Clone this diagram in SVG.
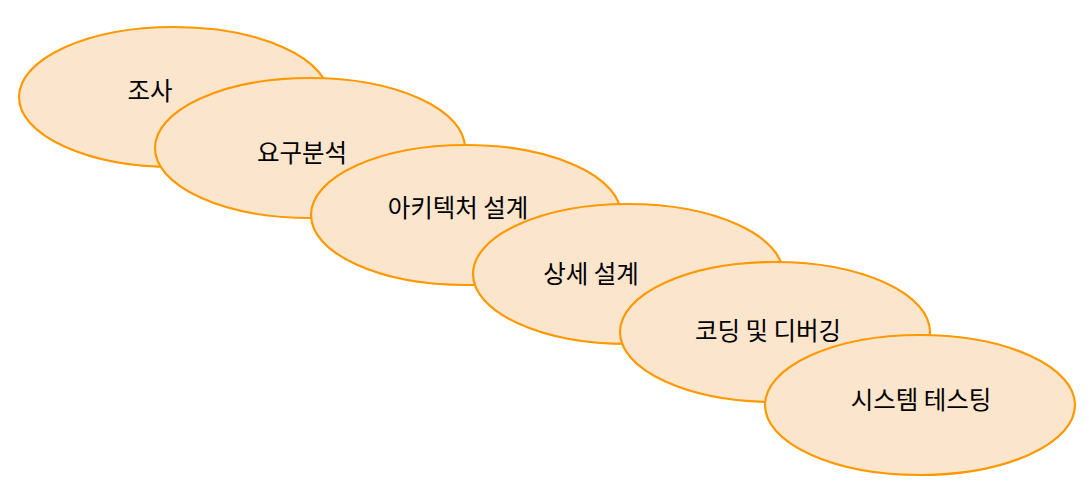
<svg xmlns="http://www.w3.org/2000/svg" width="1089" height="485" viewBox="0 0 1089 485">
<style>
.n ellipse{fill:#fce5cd;stroke:#ff9900;stroke-width:2.2}
.n text{font-family:"Noto Sans CJK KR","Noto Sans",sans-serif;font-size:24.5px;fill:#000;text-anchor:middle;dominant-baseline:central}
</style>
<rect width="1089" height="485" fill="#fff"/>
<g id="connectors"/>
<g id="n1" class="n"><ellipse cx="174" cy="97" rx="155" ry="70"/><text x="150" y="89">조사</text></g>
<g id="n2" class="n"><ellipse cx="310" cy="148" rx="155" ry="70"/><text x="302" y="151">요구분석</text></g>
<g id="n3" class="n"><ellipse cx="466" cy="215" rx="155" ry="70"/><text x="458" y="206">아키텍처 설계</text></g>
<g id="n4" class="n"><ellipse cx="628" cy="274" rx="155" ry="70"/><text x="591" y="272">상세 설계</text></g>
<g id="n5" class="n"><ellipse cx="775" cy="332" rx="155" ry="70"/><text x="768" y="329">코딩 및 디버깅</text></g>
<g id="n6" class="n"><ellipse cx="920" cy="405" rx="155" ry="70"/><text x="921" y="398">시스템 테스팅</text></g>
</svg>
